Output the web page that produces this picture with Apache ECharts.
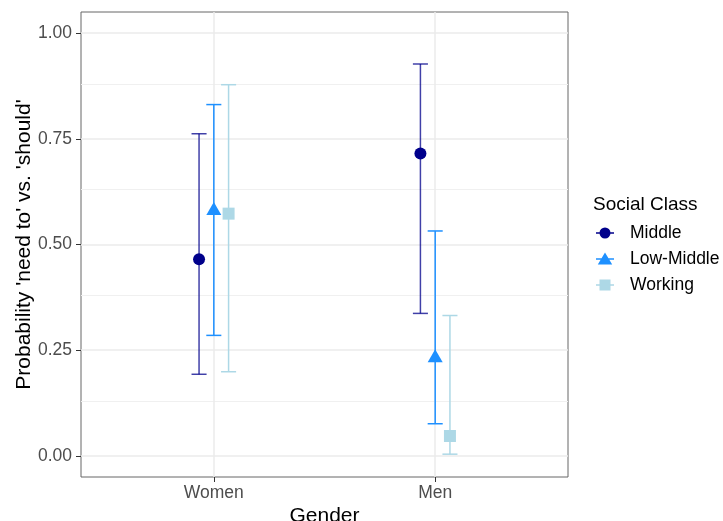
<!DOCTYPE html>
<html>
<head>
<meta charset="utf-8">
<script src="https://cdn.jsdelivr.net/npm/echarts@6/dist/echarts.min.js"></script>
<style>
  html, body { margin: 0; padding: 0; background: #fff; }
  #chart { width: 723px; height: 521px; }
</style>
</head>
<body>
<div id="chart"></div>
<script>
// Genders on the x axis, social classes as dodged groups
const genders = ['Women', 'Men'];
const classes = ['Middle', 'Low-Middle', 'Working'];

// Estimated probability with lower / upper interval, one value per gender
const middleEst = [0.465, 0.715];
const middleLo  = [0.193, 0.337];
const middleHi  = [0.762, 0.927];

const lowMiddleEst = [0.585, 0.237];
const lowMiddleLo  = [0.285, 0.076];
const lowMiddleHi  = [0.831, 0.532];

const workingEst = [0.573, 0.047];
const workingLo  = [0.199, 0.004];
const workingHi  = [0.878, 0.332];

// Axis ticks and gridlines
const yTicks = [0, 0.25, 0.5, 0.75, 1];
const yMinor = [0.125, 0.375, 0.625, 0.875];

const colors = ['#00008B', '#1E90FF', '#ADD8E6'];
const barOpacity = [0.75, 1, 1];
const symbols = ['circle', 'triangle', 'rect'];
const symbolSizes = [12, [15, 13], 12];
const dodge = [-0.0667, 0, 0.0667];
const capWidth = 0.068;

const groups = [
  { est: middleEst, lo: middleLo, hi: middleHi },
  { est: lowMiddleEst, lo: lowMiddleLo, hi: lowMiddleHi },
  { est: workingEst, lo: workingLo, hi: workingHi }
];

const FONT = 'Liberation Sans, Arial, sans-serif';

// Legend keys in an 18x18 box: a horizontal line crossed by the point shape.
// The two tiny corner triangles only pin the bounding box so shapes keep their aspect.
// Every subpath is wound clockwise so overlaps stay filled.
const corners = 'M0,0L0.01,0L0,0.01Z M18,18L17.99,18L18,17.99Z ';
const keyLine = 'M0,8.3L18,8.3L18,9.7L0,9.7Z ';
const legendIcons = [
  'path://' + corners + keyLine + 'M3.5,9A5.5,5.5 0 1 1 14.5,9A5.5,5.5 0 1 1 3.5,9Z',
  'path://' + corners + keyLine + 'M9,2.5L16.2,14.5L1.8,14.5Z',
  'path://' + corners + keyLine + 'M3.5,3.5L14.5,3.5L14.5,14.5L3.5,14.5Z'
];

const series = [];

// Panel gridlines
series.push({
  type: 'line',
  name: '_grid',
  data: [],
  silent: true,
  z: 1,
  markLine: {
    silent: true,
    symbol: 'none',
    label: { show: false },
    animation: false,
    data: [
      ...yMinor.map(v => ({ yAxis: v, lineStyle: { color: '#f0f0f0', width: 1, type: 'solid' } })),
      ...yTicks.map(v => ({ yAxis: v, lineStyle: { color: '#ebebeb', width: 1.5, type: 'solid' } })),
      ...genders.map((g, i) => ({ xAxis: i + 1, lineStyle: { color: '#ebebeb', width: 1.5, type: 'solid' } }))
    ]
  }
});

groups.forEach((g, k) => {
  // Interval bars with caps
  series.push({
    type: 'custom',
    name: classes[k] + ' interval',
    zlevel: 1,
    z: 2,
    silent: true,
    data: genders.map((_, i) => [i + 1 + dodge[k], g.lo[i], g.hi[i]]),
    renderItem: function (params, api) {
      const x = api.value(0);
      const lo = api.coord([x, api.value(1)]);
      const hi = api.coord([x, api.value(2)]);
      const half = api.size([capWidth, 0])[0] / 2;
      const style = { stroke: colors[k], lineWidth: 1.5, opacity: barOpacity[k] };
      return {
        type: 'group',
        children: [
          { type: 'line', shape: { x1: lo[0], y1: lo[1], x2: hi[0], y2: hi[1] }, style: style },
          { type: 'line', shape: { x1: lo[0] - half, y1: lo[1], x2: lo[0] + half, y2: lo[1] }, style: style },
          { type: 'line', shape: { x1: hi[0] - half, y1: hi[1], x2: hi[0] + half, y2: hi[1] }, style: style }
        ]
      };
    }
  });
  // Point estimates
  series.push({
    type: 'scatter',
    name: classes[k],
    zlevel: 1,
    z: 3,
    symbol: symbols[k],
    symbolSize: symbolSizes[k],
    itemStyle: { color: colors[k], opacity: 1 },
    data: genders.map((_, i) => [i + 1 + dodge[k], g.est[i]])
  });
});

const chart = echarts.init(document.getElementById('chart'), null, { renderer: 'canvas' });
chart.setOption({
  animation: false,
  backgroundColor: '#ffffff',
  textStyle: { fontFamily: FONT },
  title: {
    text: 'Social Class',
    left: 593,
    top: 195,
    padding: 0,
    textStyle: { fontFamily: FONT, fontSize: 19, fontWeight: 'normal', color: '#000' }
  },
  legend: {
    orient: 'vertical',
    left: 596,
    top: 224,
    padding: 0,
    itemWidth: 18,
    itemHeight: 18,
    itemGap: 8,
    selectedMode: false,
    textStyle: { fontFamily: FONT, fontSize: 17.5, color: '#000', padding: [0, 0, 0, 11] },
    data: classes.map((c, k) => ({ name: c, icon: legendIcons[k], itemStyle: { color: colors[k] } }))
  },
  grid: {
    left: 81,
    right: 155,
    top: 12,
    bottom: 44,
    outerBoundsMode: 'none',
    containLabel: false,
    show: true,
    borderColor: '#666666',
    borderWidth: 1,
    backgroundColor: 'transparent'
  },
  xAxis: {
    type: 'value',
    position: 'bottom',
    min: 0.4,
    max: 2.6,
    name: 'Gender',
    nameLocation: 'middle',
    nameGap: 29,
    nameMoveOverlap: false,
    nameTextStyle: { fontFamily: FONT, fontSize: 21, color: '#000' },
    axisLine: { show: false, onZero: false },
    splitLine: { show: false },
    axisTick: { show: true, customValues: [1, 2], length: 5, lineStyle: { color: '#333' } },
    axisLabel: {
      customValues: [1, 2],
      formatter: v => genders[Math.round(v) - 1],
      fontFamily: FONT, fontSize: 17.5, color: '#4d4d4d', margin: 7
    }
  },
  yAxis: {
    type: 'value',
    position: 'left',
    min: -0.05,
    max: 1.05,
    name: "Probability 'need to' vs. 'should'",
    nameLocation: 'middle',
    nameGap: 46,
    nameMoveOverlap: false,
    nameTextStyle: { fontFamily: FONT, fontSize: 21, color: '#000' },
    axisLine: { show: false, onZero: false },
    splitLine: { show: false },
    axisTick: { show: true, customValues: yTicks, length: 5, lineStyle: { color: '#333' } },
    axisLabel: {
      customValues: yTicks,
      formatter: v => v.toFixed(2),
      fontFamily: FONT, fontSize: 17.5, color: '#4d4d4d', margin: 9
    }
  },
  series: series
});
</script>
</body>
</html>
